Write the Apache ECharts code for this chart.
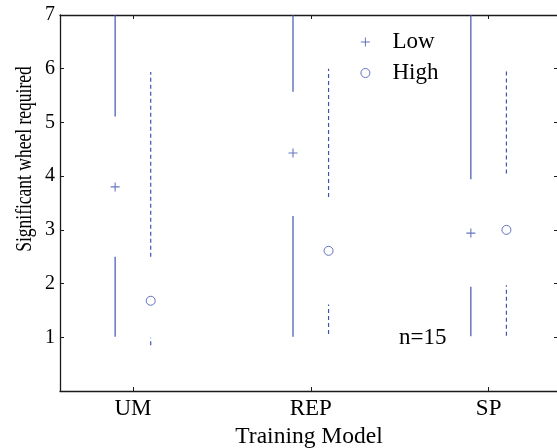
<!DOCTYPE html>
<html>
<head>
<meta charset="utf-8">
<script src="https://cdn.jsdelivr.net/npm/echarts@6/dist/echarts.min.js"></script>
<style>
  html, body { margin: 0; padding: 0; background: #fff; }
  #chart { width: 557px; height: 448px; }
</style>
</head>
<body>
<div id="chart"></div>
<script>
// Training model categories and summary values per group
const categories = ['UM', 'REP', 'SP'];
const yTickValues = [1, 2, 3, 4, 5, 6, 7];

// Mean markers
const lowMean = [3.80, 4.43, 2.94];
const highMean = [1.68, 2.61, 3.00];

// Whisker segments [from, to] below and above each mean
const lowLowerSeg = [[1.01, 2.50], [1.01, 3.26], [1.02, 1.94]];
const lowUpperSeg = [[5.11, 7.00], [5.57, 7.00], [3.94, 7.00]];
const highLowerSeg = [[0.85, 0.99], [1.06, 1.61], [1.03, 1.97]];
const highUpperSeg = [[2.50, 5.94], [3.61, 6.00], [4.05, 6.00]];

const sampleNote = 'n=15';

const BLUE = '#3f54b2';
const AXIS = '#1a1a1a';
const FONT = "'Liberation Serif', 'Times New Roman', serif";
const DODGE = 0.1;

function segData(segs, offset) {
  return segs.map((s, i) => [i + 1 + offset, s[0], s[1]]);
}
function pointData(vals, offset) {
  return vals.map((v, i) => [i + 1 + offset, v]);
}
function segSeries(segs, offset, dashed) {
  return {
    type: 'custom',
    silent: true,
    clip: true,
    data: segData(segs, offset),
    encode: { x: 0, y: [1, 2] },
    renderItem: function (params, api) {
      const a = api.coord([api.value(0), api.value(1)]);
      const b = api.coord([api.value(0), api.value(2)]);
      return {
        type: 'line',
        shape: { x1: a[0], y1: a[1], x2: b[0], y2: b[1] },
        style: { stroke: BLUE, lineWidth: 1.2, lineDash: dashed ? [4, 3] : null }
      };
    }
  };
}

const chart = echarts.init(document.getElementById('chart'), null, { renderer: 'canvas' });

const tickCommon = { show: true, inside: true, length: 4, lineStyle: { color: AXIS, width: 1 } };
const markerStyle = { color: 'rgba(0,0,0,0)', borderColor: BLUE, borderWidth: 1 };

chart.setOption({
  animation: false,
  backgroundColor: '#fff',
  grid: { left: 60, top: 15, width: 498, height: 376, containLabel: false, outerBoundsMode: 'none' },
  legend: {
    data: [
      { name: 'Low', itemStyle: markerStyle },
      { name: 'High', itemStyle: markerStyle }
    ],
    orient: 'vertical',
    left: 360.4,
    top: 30,
    padding: 0,
    itemGap: 7,
    itemWidth: 44,
    itemHeight: 9,
    selectedMode: false,
    textStyle: { fontFamily: FONT, fontSize: 23, color: '#000', lineHeight: 24 }
  },
  xAxis: [
    {
      type: 'value',
      min: 0.59,
      max: 3.39,
      position: 'bottom',
      axisLine: { show: true, onZero: false, lineStyle: { color: AXIS, width: 1.3 } },
      axisTick: Object.assign({ customValues: [1, 2, 3] }, tickCommon),
      axisLabel: {
        customValues: [1, 2, 3],
        formatter: v => categories[Math.round(v) - 1],
        fontFamily: FONT, fontSize: 23, color: '#000', margin: 6
      },
      splitLine: { show: false },
      name: 'Training Model',
      nameLocation: 'middle',
      nameGap: 33,
      nameTextStyle: { fontFamily: FONT, fontSize: 23.5, color: '#000' }
    },
    {
      type: 'value',
      min: 0.59,
      max: 3.39,
      position: 'top',
      axisLine: { show: true, onZero: false, lineStyle: { color: AXIS, width: 1.3 } },
      axisTick: Object.assign({ customValues: [1, 2, 3] }, tickCommon),
      axisLabel: { show: false },
      splitLine: { show: false }
    }
  ],
  yAxis: [
    {
      type: 'value',
      min: 0,
      max: 7,
      interval: 1,
      position: 'left',
      axisLine: { show: true, onZero: false, lineStyle: { color: AXIS, width: 1.3 } },
      axisTick: Object.assign({ customValues: yTickValues }, tickCommon),
      axisLabel: {
        customValues: yTickValues,
        fontFamily: FONT, fontSize: 20, color: '#000', margin: 5
      },
      splitLine: { show: false }
    },
    {
      type: 'value',
      min: 0,
      max: 7,
      interval: 1,
      position: 'right',
      axisLine: { show: true, onZero: false, lineStyle: { color: AXIS, width: 1.3 } },
      axisTick: Object.assign({ customValues: yTickValues }, tickCommon),
      axisLabel: { show: false },
      splitLine: { show: false }
    }
  ],
  graphic: [
    {
      type: 'text',
      x: 25,
      y: 159,
      rotation: Math.PI / 2,
      scaleY: 1.3,
      style: {
        text: 'Significant wheel required',
        fontFamily: FONT, fontSize: 17.5, fill: '#000',
        align: 'center', verticalAlign: 'middle'
      }
    },
    {
      type: 'text',
      x: 399,
      y: 338,
      style: {
        text: sampleNote,
        fontFamily: FONT, fontSize: 23, fill: '#000',
        align: 'left', verticalAlign: 'middle'
      }
    }
  ],
  series: [
    segSeries(lowLowerSeg, -DODGE, false),
    segSeries(lowUpperSeg, -DODGE, false),
    segSeries(highLowerSeg, DODGE, true),
    segSeries(highUpperSeg, DODGE, true),
    {
      name: 'Low',
      type: 'scatter',
      symbol: 'path://M0,5L10,5M5,0L5,10',
      symbolSize: 9,
      data: pointData(lowMean, -DODGE),
      itemStyle: { color: 'rgba(0,0,0,0)', borderColor: BLUE, borderWidth: 1.1 },
      z: 5
    },
    {
      name: 'High',
      type: 'scatter',
      symbol: 'circle',
      symbolSize: 9,
      data: pointData(highMean, DODGE),
      itemStyle: markerStyle,
      z: 5
    }
  ]
});
</script>
</body>
</html>
